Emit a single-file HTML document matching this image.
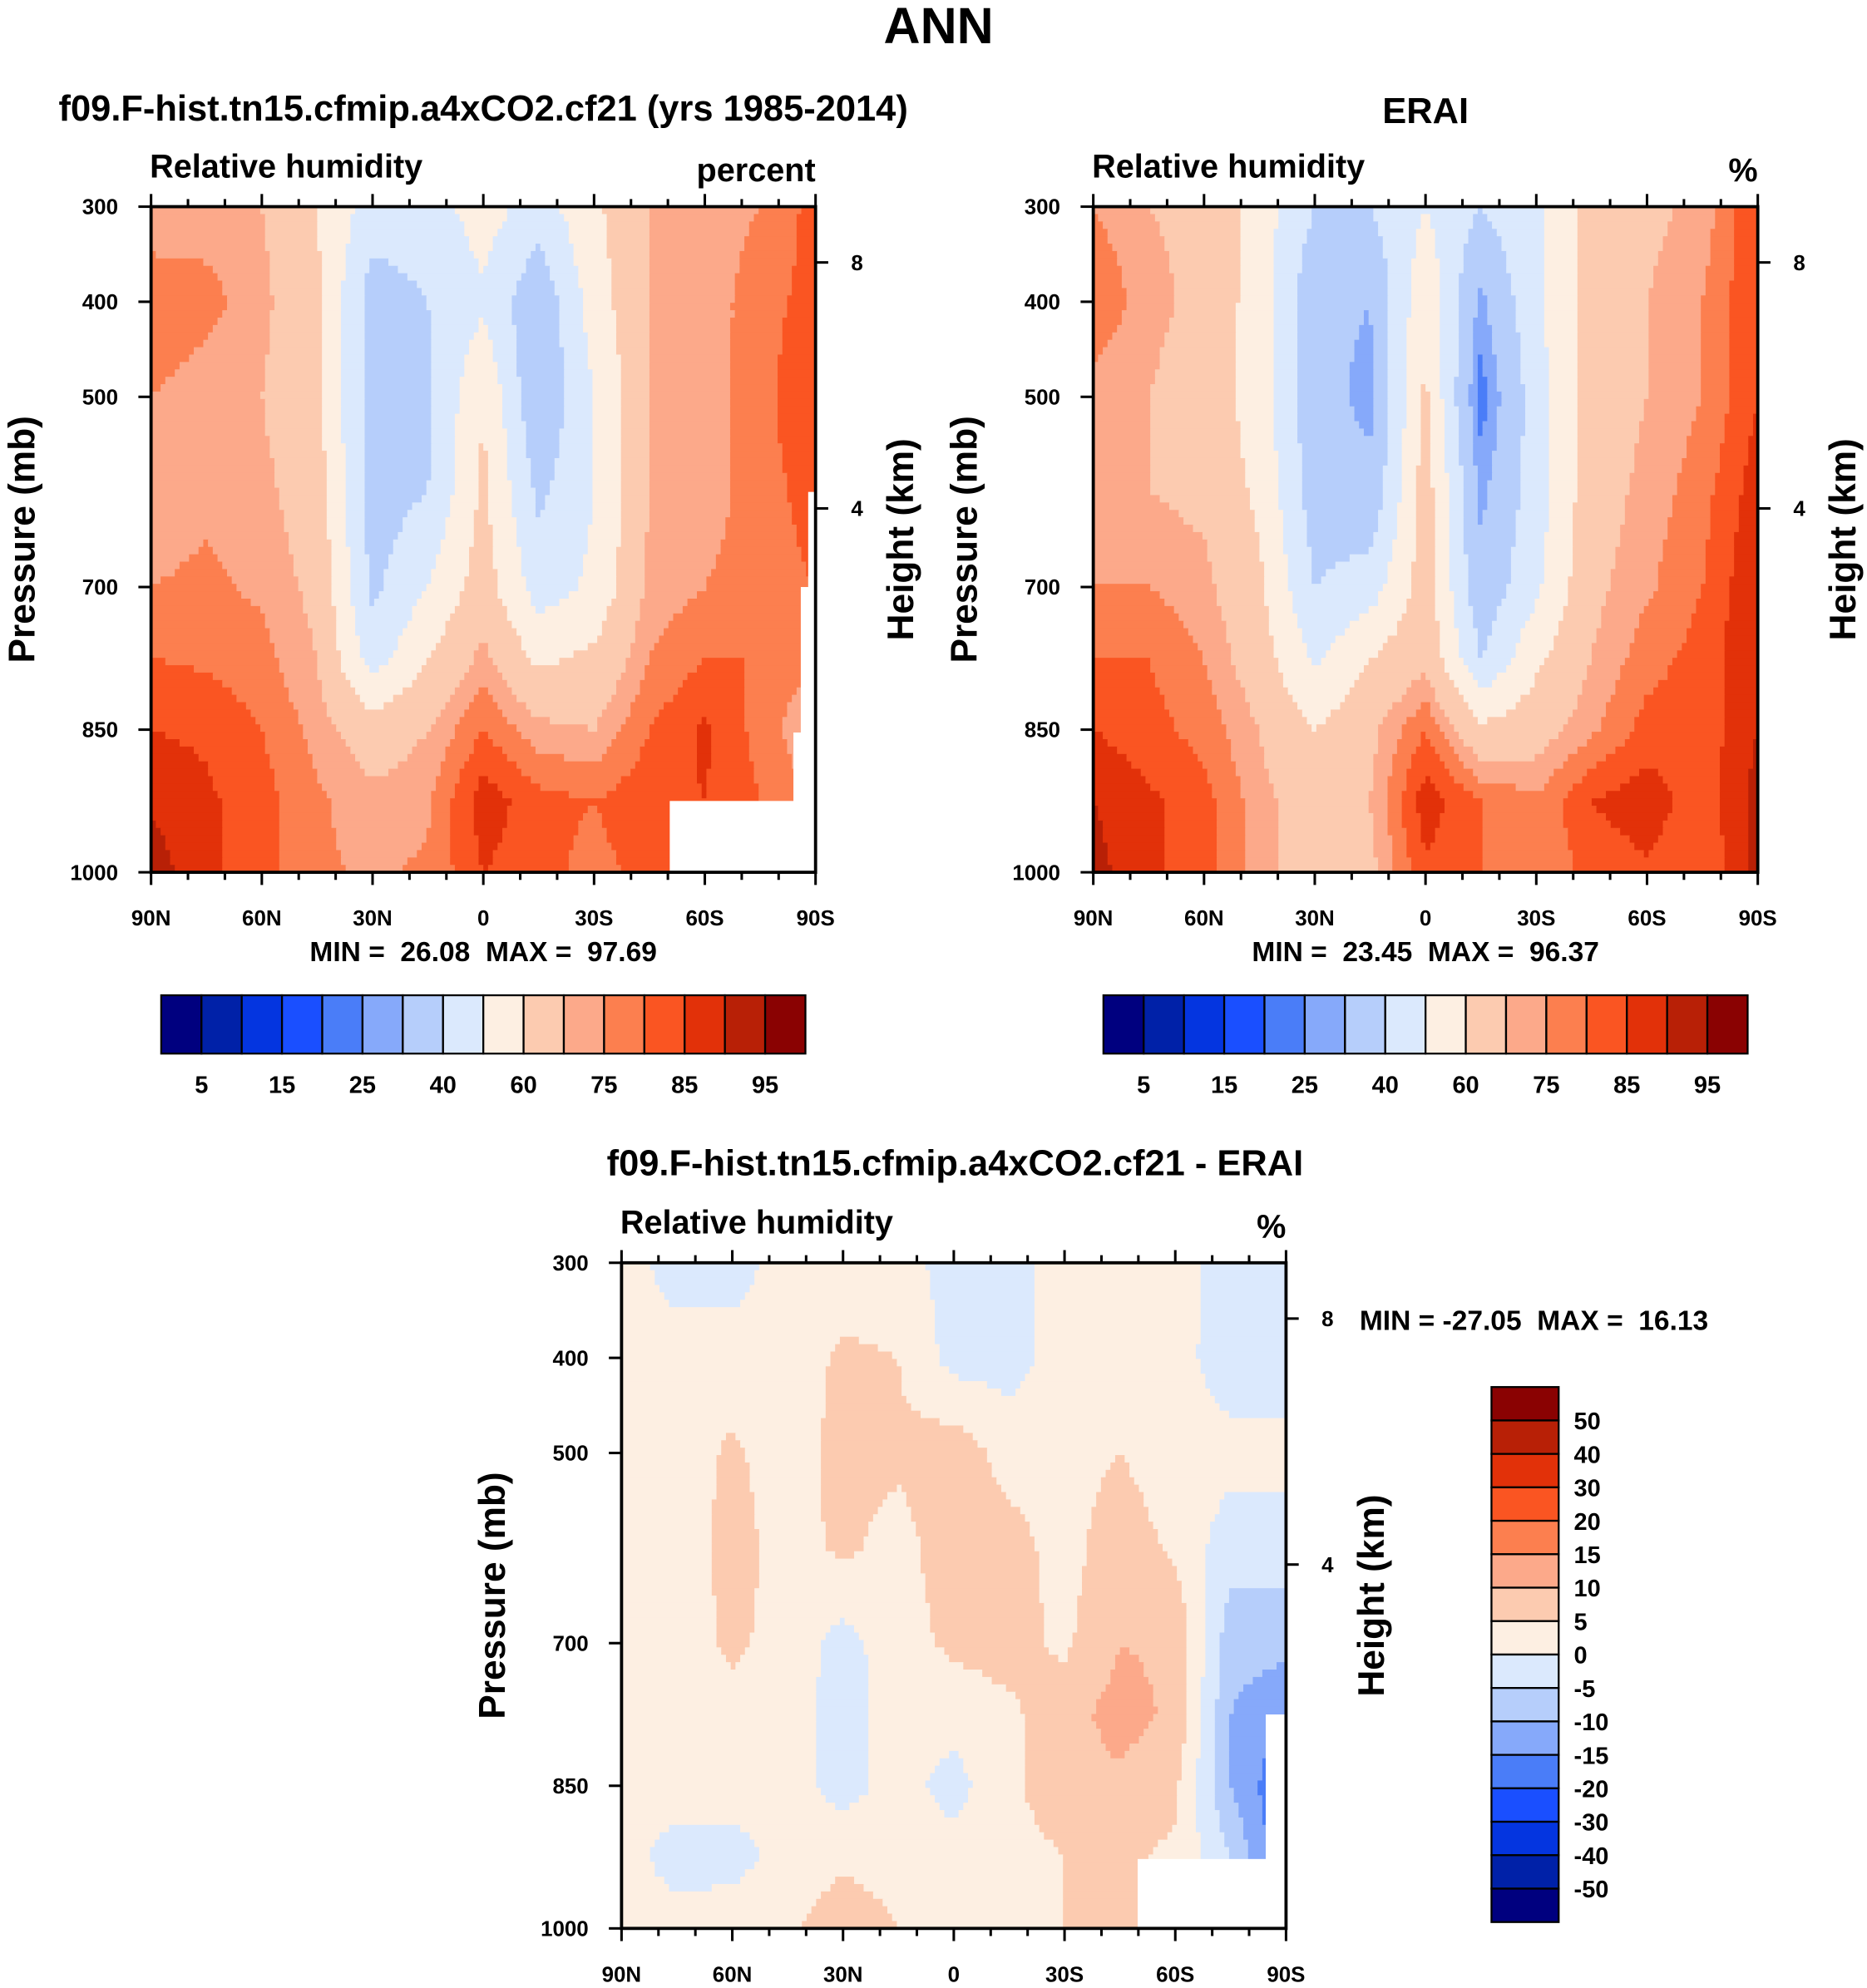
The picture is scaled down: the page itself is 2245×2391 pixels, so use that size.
<!DOCTYPE html>
<html><head><meta charset="utf-8"><style>
html,body{margin:0;padding:0;background:#fff}
svg{display:block}
text{font-family:"Liberation Sans",Arial,sans-serif;font-weight:bold;fill:#000;white-space:pre}
</style></head><body>
<svg id="fig" xmlns="http://www.w3.org/2000/svg" width="2245" height="2391" viewBox="0 0 1472 1568">
<text x="740" y="34" font-size="40" text-anchor="middle">ANN</text>
</svg>
<script>
const lats=[90,75,60,45,30,15,0,-15,-30,-45,-60,-75,-90];
const levs=[300,400,500,600,700,775,850,925,1000];
const modelRH=[
[70,72,70,60,45,45,55,45,58,70,72,75,82],
[80,77,72,62,35,40,48,32,55,70,72,78,82],
[75,72,70,62,35,38,60,30,50,70,72,78,85],
[72,74,72,65,35,40,62,38,50,70,72,78,82],
[75,76,74,68,38,50,65,45,52,72,75,78,80],
[80,79,77,70,45,60,72,58,62,75,80,80,75],
[85,84,80,73,65,70,80,72,70,80,86,78,70],
[89,86,82,76,72,74,88,82,80,84,85,80,75],
[93,86,82,76,74,76,85,82,78,82,80,82,80]];
const eraiRH=[
[75,70,68,55,40,40,50,40,48,65,68,72,85],
[80,72,68,55,32,30,58,28,48,65,70,75,85],
[72,70,66,55,33,28,62,22,45,65,70,75,85],
[70,70,68,58,35,32,65,28,45,66,72,78,88],
[75,75,72,62,40,45,65,32,48,68,74,80,90],
[80,80,75,65,48,60,68,40,58,70,78,82,90],
[85,82,78,70,60,68,80,62,66,74,82,82,90],
[90,86,82,72,66,70,88,80,76,85,88,82,92],
[92,86,82,72,66,68,84,80,75,82,84,80,92]];
const diffRH=[
[2,-2,-2,2,2,2,-2,-2,2,2,2,-2,-5],
[2,2,2,2,6,5,-2,-2,2,2,2,-3,-3],
[2,2,6,2,7,6,8,3,3,5,2,2,2],
[2,2,7,3,6,3,8,7,3,8,4,-3,-3],
[2,2,6,3,-2,3,6,7,4,10,9,-8,-8],
[2,2,3,2,-2,2,2,4,8,12,9,-10,-15],
[2,2,2,2,-2,2,-2,4,8,9,6,-10,-20],
[2,-2,-2,2,4,3,2,3,5,6,4,-5,-20],
[2,2,3,4,8,5,3,3,5,6,4,2,0]];
const absLevels=[5,10,15,20,25,30,40,50,60,70,75,80,85,90,95];
const absLabels=["5","15","25","40","60","75","85","95"];
const diffLevels=[-50,-40,-30,-20,-15,-10,-5,0,5,10,15,20,30,40,50];
const diffLabels=["50","40","30","20","15","10","5","0","-5","-10","-15","-20","-30","-40","-50"];
const xLabels=["90N","60N","30N","0","30S","60S","90S"];
const pLabels=[300,400,500,700,850,1000];
const colors=["#00007f","#0021a8","#0435e0","#1a4fff","#4a7df8","#86a9fa","#b6cefb","#dbe9fd","#fdefe2","#fccbb0","#fca98a","#fc7f4f","#fa5522","#e23109","#b82006","#8a0202"];
const NS="http://www.w3.org/2000/svg";
const svg=document.getElementById('fig');
function mk(t,a,p){const e=document.createElementNS(NS,t);for(const k in a)e.setAttribute(k,a[k]);(p||svg).appendChild(e);return e;}
function txt(x,y,s,size,anchor,p,rot){const e=mk('text',{x:x,y:y,'font-size':size,'text-anchor':anchor||'middle'},p);if(rot)e.setAttribute('transform','rotate(-90 '+x+' '+y+')');e.textContent=s;return e;}
function interp(data,lat,p){
  let i=0;while(i<lats.length-2&&lat<lats[i+1])i++;
  let j=0;while(j<levs.length-2&&p>levs[j+1])j++;
  const tx=(lats[i]-lat)/(lats[i]-lats[i+1]),ty=(p-levs[j])/(levs[j+1]-levs[j]);
  const a=data[j][i],b=data[j][i+1],c=data[j+1][i],d=data[j+1][i+1];
  return a*(1-tx)*(1-ty)+b*tx*(1-ty)+c*(1-tx)*ty+d*tx*ty;
}
function bin(v,L){let k=0;while(k<L.length&&v>=L[k])k++;return k;}
function panel(name,data,L,x0,y0,w,h,masks,hasPct){
  const g=mk('g',{});
  
  
  const sx=lat=>x0+(90-lat)/180*w, sy=p=>y0+(p-300)/700*h;
  const nx=140,ny=90,cw=w/nx,ch=h/ny;
  for(let r=0;r<ny;r++){
    const p=300+(r+0.5)*700/ny;let start=0,cur=-1;
    for(let c=0;c<=nx;c++){
      let k=-1;if(c<nx){const lat=90-(c+0.5)*180/nx;k=bin(interp(data,lat,p),L);}
      if(k!==cur){
        if(cur>=0){const e=mk('rect',{x:(x0+start*cw).toFixed(2),y:(y0+r*ch).toFixed(2),width:((c-start)*cw+0.6).toFixed(2),height:(ch+0.6).toFixed(2),fill:colors[cur]},g);
          
          }
        cur=k;start=c;}
    }
  }
  masks.forEach(m=>{const e=mk('rect',{x:sx(m[0]),y:sy(m[1]),width:sx(m[2])-sx(m[0]),height:sy(1000)-sy(m[1]),fill:'#fff'},g);
    
    });
  const fr=mk('rect',{x:x0,y:y0,width:w,height:h,fill:'none',stroke:'#000','stroke-width':2.5},g);
  
  
  for(let lat=90;lat>=-90;lat-=10){const X=sx(lat),major=lat%30===0,len=major?10:6;
    mk('line',{x1:X,x2:X,y1:y0,y2:y0-len,stroke:'#000','stroke-width':2},g);
    mk('line',{x1:X,x2:X,y1:y0+h,y2:y0+h+len,stroke:'#000','stroke-width':2},g);}
  xLabels.forEach((s,i)=>{const t=txt(x0+i*w/6,y0+h+42,s,17,'middle',g);
    
    });
  pLabels.forEach(p=>{const Y=sy(p);mk('line',{x1:x0,x2:x0-10,y1:Y,y2:Y,stroke:'#000','stroke-width':2},g);
    const t=txt(x0-26,Y+6,String(p),17,'end',g);
    
    });
  [[8,44],[4,238]].forEach(a=>{const Y=y0+a[1];mk('line',{x1:x0+w,x2:x0+w+10,y1:Y,y2:Y,stroke:'#000','stroke-width':2},g);
    const t=txt(x0+w+28,Y+6,String(a[0]),17,'start',g);
    
    });
  let t=txt(x0-92,y0+h/2,'Pressure (mb)',29,'middle',g,true);
  
  t=txt(x0+w+77,y0+h/2,'Height (km)',29,'middle',g,true);
  
  t=txt(x0-1,y0-23,'Relative humidity',26,'start',g);
  
  t=txt(x0+w,y0-20,hasPct?'percent':'%',26,'end',g);
  
  return g;
}
panel('model-panel',modelRH,absLevels,119,163,524,525,[[-50.5,925,-90],[-84,853,-90],[-86,700,-90],[-88,600,-90]],true);
panel('erai-panel',eraiRH,absLevels,862,163,524,525,[],false);
panel('diff-panel',diffRH,diffLevels,490,996,524,525,[[-49.8,927,-90],[-84.5,775,-90]],false);
let t;
t=txt(381,95,'f09.F-hist.tn15.cfmip.a4xCO2.cf21 (yrs 1985-2014)',28.5,'middle');
t=txt(1124,97,'ERAI',28.5,'middle');
t=txt(753,927,'f09.F-hist.tn15.cfmip.a4xCO2.cf21 - ERAI',28.5,'middle');
t=txt(381,758,'MIN =  26.08  MAX =  97.69',22,'middle');
t=txt(1124,758,'MIN =  23.45  MAX =  96.37',22,'middle');
t=txt(1072,1049,'MIN = -27.05  MAX =  16.13',22,'start');
function hbar(name,x0,y0,w,h){
  const g=mk('g',{});
  const bw=w/16;
  colors.forEach((c,i)=>{const e=mk('rect',{x:x0+i*bw,y:y0,width:bw,height:h,fill:c,stroke:'#000','stroke-width':1.5},g);
    });
  absLabels.forEach((s,i)=>{const e=txt(x0+(2*i+1)*bw,y0+h+31,s,19,'middle',g);
    });
}
hbar('model-colorbar',127,785,508,46);
hbar('erai-colorbar',870,785,508,46);
(function(){
  const g=mk('g',{});
  const x0=1176,y0=1094,w=53,h=422,bh=h/16;
  colors.slice().reverse().forEach((c,i)=>{const e=mk('rect',{x:x0,y:y0+i*bh,width:w,height:bh,fill:c,stroke:'#000','stroke-width':1.5},g);
    });
  diffLabels.forEach((s,i)=>{const e=txt(x0+w+12,y0+(i+1)*bh+7,s,19,'start',g);
    });
})();
</script>
</body></html>
